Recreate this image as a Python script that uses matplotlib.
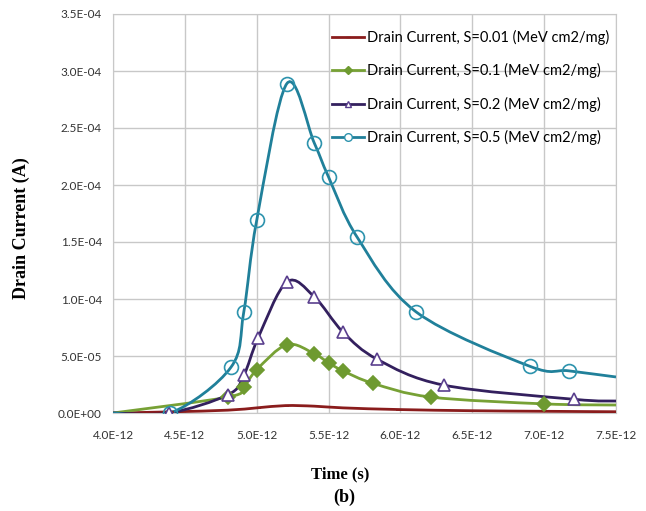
import numpy as np
import matplotlib.pyplot as plt
from matplotlib.path import Path
from matplotlib.patches import PathPatch
from matplotlib.lines import Line2D
from matplotlib.ticker import FuncFormatter, MultipleLocator

# Drain current transients for four LET values (time in s, current in A)
t_s001 = np.array([4.0, 4.4, 4.8, 5.0, 5.2, 5.4, 5.6, 6.0, 6.5, 7.0, 7.5]) * 1e-12
i_s001 = np.array([0.0, 0.01, 0.025, 0.045, 0.065, 0.06, 0.045, 0.03, 0.02, 0.015, 0.011]) * 1e-4

t_s01 = np.array([4.0, 4.8, 4.91, 5.0, 5.21, 5.4, 5.5, 5.6, 5.81, 6.21, 7.0, 7.5]) * 1e-12
i_s01 = np.array([0.0, 0.14, 0.23, 0.38, 0.60, 0.52, 0.44, 0.37, 0.26, 0.14, 0.08, 0.07]) * 1e-4

t_s02 = np.array([4.0, 4.39, 4.8, 4.91, 5.01, 5.21, 5.4, 5.6, 5.84, 6.3, 7.21, 7.5]) * 1e-12
i_s02 = np.array([0.0, 0.0, 0.16, 0.33, 0.66, 1.15, 1.02, 0.71, 0.47, 0.245, 0.12, 0.105]) * 1e-4

t_s05 = np.array([4.0, 4.4, 4.82, 4.91, 5.0, 5.21, 5.4, 5.5, 5.7, 6.11, 6.9, 7.17, 7.5]) * 1e-12
i_s05 = np.array([0.0, 0.0, 0.40, 0.886, 1.69, 2.89, 2.37, 2.07, 1.54, 0.886, 0.41, 0.37, 0.316]) * 1e-4

labels = ['Drain Current, S=0.01 (MeV cm2/mg)',
          'Drain Current, S=0.1 (MeV cm2/mg)',
          'Drain Current, S=0.2 (MeV cm2/mg)',
          'Drain Current, S=0.5 (MeV cm2/mg)']


def smooth_path(x, y):
    # Excel-style smoothed line: cubic Bezier segments through every point
    pts = np.column_stack([x, y])
    n = len(pts)
    verts = [pts[0]]
    codes = [Path.MOVETO]
    for k in range(n - 1):
        p0 = pts[k - 1] if k > 0 else pts[k]
        p1 = pts[k]
        p2 = pts[k + 1]
        p3 = pts[k + 2] if k + 2 < n else pts[k + 1]
        c1 = p1 + (p2 - p0) / 6.0
        c2 = p2 - (p3 - p1) / 6.0
        verts += [c1, c2, p2]
        codes += [Path.CURVE4] * 3
    return Path(verts, codes)


plt.rcParams['font.family'] = ['Lato', 'DejaVu Sans']

fig = plt.figure(figsize=(6.46, 5.11), dpi=100)
W, H = 646, 511
ax = fig.add_axes([113 / W, 1 - 413 / H, (616 - 113) / W, (413 - 14) / H])

# line colour, marker edge, marker, size, marker face
series = [
    (t_s001, i_s001, '#8a1c1c', '#8a1c1c', '_', 6, 'none'),
    (t_s01, i_s01, '#77a135', '#6e9a30', 'D', 7, '#6e9a30'),
    (t_s02, i_s02, '#33205e', '#5a3f8e', '^', 9, 'white'),
    (t_s05, i_s05, '#20809a', '#2d93ad', 'o', 10, 'none'),
]

handles = []
for (t, i, lc, mc, mk, ms, mf), lab in zip(series, labels):
    ax.add_patch(PathPatch(smooth_path(t, i), facecolor='none', edgecolor=lc,
                           lw=2.0, zorder=3))
    ax.plot(t[1:-1], i[1:-1], linestyle='none', marker=mk, markersize=ms,
            markerfacecolor=mf, markeredgecolor=mc, markeredgewidth=1.2, zorder=4)
    handles.append(Line2D([], [], color=lc, lw=2.0, marker=mk, markersize=ms * 0.55,
                          markerfacecolor='white' if mf in ('none', 'white') and mk != '_' else mc,
                          markeredgecolor=mc, label=lab))

ax.set_xlim(4.0e-12, 7.5e-12)
ax.set_ylim(0, 3.5e-4)
ax.xaxis.set_major_locator(MultipleLocator(0.5e-12))
ax.yaxis.set_major_locator(MultipleLocator(0.5e-4))
fmt = FuncFormatter(lambda v, p: f'{v:.1E}')
ax.xaxis.set_major_formatter(fmt)
ax.yaxis.set_major_formatter(fmt)
ax.tick_params(length=0, labelsize=8.5, colors='#333333')
ax.tick_params(axis='x', pad=12)
ax.tick_params(axis='y', pad=8)
ax.grid(True, color='#c8c8c8', lw=1.0)
ax.set_axisbelow(True)
for s in ax.spines.values():
    s.set_color('#c8c8c8')

ax.legend(handles=handles, loc='upper left', bbox_to_anchor=(332 / W, 1 - 30 / H),
          bbox_transform=fig.transFigure, frameon=False, fontsize=10.5,
          labelspacing=1.25, handlelength=2.2, handletextpad=0.2,
          borderaxespad=0, borderpad=0)

serif = ['Liberation Serif', 'DejaVu Serif']
fig.text(21 / W, 1 - 228 / H, 'Drain Current (A)', rotation=90, ha='center',
         va='center', fontsize=13, fontweight='bold', family=serif)
fig.text(340 / W, 1 - 474 / H, 'Time (s)', ha='center', va='center',
         fontsize=12, fontweight='bold', family=serif)
fig.text(344 / W, 1 - 497 / H, '(b)', ha='center', va='center',
         fontsize=13, fontweight='bold', family=serif)

fig.savefig('out.png', dpi=100)
